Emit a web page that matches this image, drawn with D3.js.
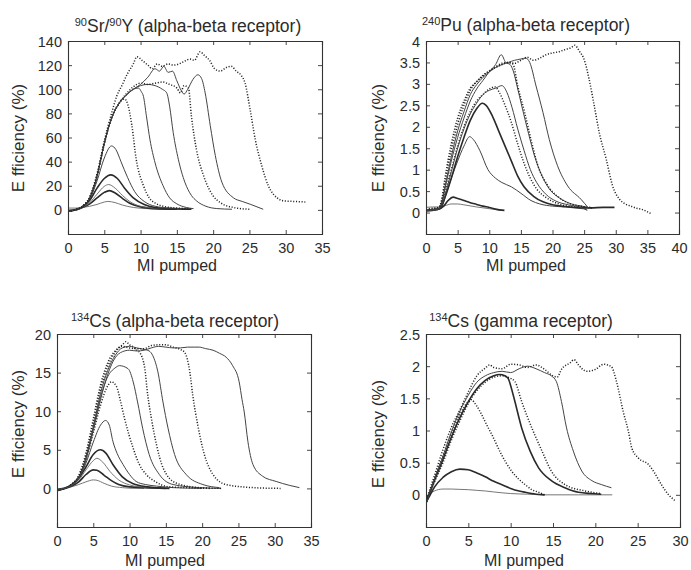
<!DOCTYPE html>
<html><head><meta charset="utf-8">
<script src="https://cdn.jsdelivr.net/npm/d3@7"></script>
<style>
body{margin:0;background:#fff}
svg{display:block}
text{font-family:"Liberation Sans",Arial,sans-serif;fill:#2b2b2b}
</style>
</head><body>
<svg id="c" width="691" height="570"></svg>
<script>
// ---------------- DATA ----------------
// Panel 1: 90Sr/90Y (alpha-beta receptor)
const srXTicks = [0,5,10,15,20,25,30,35];
const srYTicks = [0,20,40,60,80,100,120,140];
const sr1 = [[0,1.5],[1,1.5],[2,2],[3,3],[4,4.5],[5,6.5],[5.5,7],[6.5,6],[7.5,4],[9,2],[11,1],[13,0.5],[15,0.5]];
const sr2 = [[0,-1],[1,0],[2,2],[3,5],[4,10],[5,14.5],[5.7,16],[6.5,14],[7.5,9.5],[8.5,5.5],[10,2.5],[12,1],[15,0.5]];
const sr3 = [[0,0],[1,0.5],[2,2],[3,6],[4,13],[5,19.5],[5.6,21],[6.5,18],[7.5,12],[8.5,7],[10,3],[12,1.5],[15,1]];
const sr4 = [[0,-1],[1,0],[2,2.5],[3,8],[4,18],[5,26],[5.9,29],[6.8,26],[7.8,18],[9,10],[10.5,4.5],[12,2],[14,1],[17,0.5]];
const sr5 = [[0,-1],[1,0],[2,3],[3,9],[4,24],[5,43],[6,53],[6.6,50],[7.3,40],[8.2,27],[9.2,15],[10.5,7],[12,3],[14,1.5],[17,1]];
const sr6 = [[0,-1],[1,0],[2,3],[3,10],[4,28],[5,55],[6,76],[7,88],[7.8,92],[8.3,86],[8.8,70],[9.4,42],[10.4,20],[11.2,10],[12.2,5],[13.5,2.5],[15,1.5],[17,1]];
const sr7 = [[0,-1],[1,0],[2,3],[3,10],[4,28],[5,55],[6,76],[7,88],[8,95],[9,100],[9.7,101],[10.1,98],[10.4,94],[10.8,78],[11.3,58],[12,39],[13.1,20],[14,10],[15,5],[16.3,2],[17.3,1]];
const sr8 = [[0,-1],[1,0],[2,3],[3,10],[4,28],[5,55],[6,76],[7,88],[8,95],[9,100],[10,103],[11,104],[12,103],[13,100],[13.6,97],[14,86],[14.5,64],[15.2,42],[16.1,23],[17,12],[17.7,7.5],[19,3],[20.5,1.1],[22.6,0.5]];
const sr9 = [[0,-1],[1,0],[2,3],[3,10],[4,28],[5,55],[6,76],[7,88],[8,96],[9,102],[10,105],[11,104],[12,105],[13,106],[14,104],[15,101],[15.5,97],[16,103],[16.6,101],[17,78],[17.7,50],[18.7,28],[20,11.6],[21,6],[22.8,2],[25,0.5]];
const sr10 = [[0,-1],[1,0],[2,3],[3,10],[4,28],[5,55],[6,76],[7,88],[8,95],[9,100],[10,104],[11,110],[12,117],[12.6,115],[13.2,119],[13.8,114],[14.4,115],[15,107],[15.6,99],[16,96],[16.5,100],[17.2,108],[17.9,112],[18.4,109],[18.9,97],[19.6,70],[20.3,45],[21.2,23],[22.8,10],[24,7],[25.1,4.7],[26.9,0.5]];
const sr11 = [[0,-1],[1,0],[2,3],[3,11],[4,30],[5,57],[6,80],[6.7,94],[7.5,104],[8.2,113],[9,121],[9.5,127],[10.2,124],[11,120],[11.6,117],[12.3,121],[13,119],[13.8,121],[14.5,120],[15.3,121],[16,123],[16.8,125],[17.4,124],[18.2,131],[18.8,128],[19.5,124],[20.2,117],[21,115],[21.8,118],[22.5,119],[23.2,115],[23.8,112],[24.4,105],[25.1,83],[25.8,58.5],[26.7,36.5],[27.6,20],[28.3,13],[28.8,10],[29.7,7.5],[31,7],[32.7,6.6]];

// Panel 2: 240Pu (alpha-beta receptor)
const puXTicks = [0,5,10,15,20,25,30,35,40];
const puYTicks = [0,0.5,1,1.5,2,2.5,3,3.5,4];
const pu1 = [[0,0.12],[1,0.13],[2,0.13],[3,0.16],[4,0.2],[5,0.2],[6,0.18],[8,0.13],[10,0.09],[12,0.05]];
const pu2 = [[0,0.05],[1,0.07],[2,0.08],[2.8,0.15],[3.5,0.28],[4.3,0.36],[5,0.33],[6,0.28],[7,0.23],[8,0.19],[9,0.15],[10,0.12],[11,0.08],[12.4,0.05]];
const pu3 = [[0,0.05],[1,0.06],[2,0.1],[2.5,0.15],[3,0.35],[4,0.8],[5,1.2],[6,1.55],[6.9,1.77],[7.5,1.7],[8.5,1.45],[9.8,1.0],[11,0.8],[12,0.7],[13.5,0.6],[15,0.45],[16.6,0.28],[18,0.2],[20,0.15],[22,0.13],[24,0.1],[25.5,0.08]];
const pu4 = [[0,0.04],[1,0.05],[2,0.08],[2.5,0.15],[3,0.35],[4,0.8],[5,1.3],[6,1.75],[7,2.15],[8,2.42],[8.9,2.55],[9.5,2.5],[10.5,2.25],[11.5,1.9],[12.5,1.55],[13.5,1.2],[14.5,0.85],[15.5,0.6],[17,0.38],[18.5,0.25],[20,0.18],[22,0.14],[24,0.12],[26,0.11],[28,0.12],[29.8,0.12]];
const pu5 = [[0,0.05],[2,0.08],[2.5,0.2],[3,0.45],[4,1.0],[5,1.55],[6,2.0],[7,2.35],[8,2.6],[9,2.75],[10,2.88],[10.9,2.93],[11.6,2.8],[12.5,2.5],[13.5,2.1],[14.5,1.6],[15.5,1.15],[16.5,0.8],[17.5,0.55],[19,0.35],[21,0.2],[23,0.14],[25,0.12],[26.3,0.1]];
const pu6 = [[0,0.04],[2,0.08],[2.5,0.18],[3,0.4],[4,0.95],[5,1.5],[6,1.95],[7,2.3],[8,2.55],[9,2.75],[10,2.85],[11,2.9],[12,2.96],[12.8,2.8],[13.6,2.45],[14.5,1.95],[15.5,1.45],[16.5,1.0],[17.5,0.7],[19,0.42],[20.5,0.27],[22.5,0.18],[24.5,0.12],[25.5,0.05]];
const pu7 = [[0,0.05],[2,0.1],[2.5,0.2],[3,0.55],[4,1.2],[5,1.75],[6,2.2],[7,2.6],[8,2.88],[9,3.08],[10,3.28],[11,3.45],[11.9,3.68],[12.6,3.5],[13.3,3.45],[13.8,3.3],[14.4,2.95],[15.2,2.45],[16.2,1.85],[17.2,1.3],[18.2,0.9],[19.5,0.55],[21,0.35],[23,0.2],[25,0.14],[26,0.1]];
const pu8 = [[0,0.06],[2,0.12],[2.5,0.3],[3,0.7],[4,1.45],[5,2.05],[6,2.5],[7,2.85],[8,3.05],[9,3.18],[10,3.3],[11,3.4],[12,3.48],[13,3.5],[13.75,3.46],[14.5,2.95],[15.6,2.33],[16.6,1.7],[17.7,1.09],[19.3,0.62],[21.4,0.31],[24,0.16],[26,0.12]];
const pu9 = [[0,0.05],[2,0.1],[2.5,0.25],[3,0.6],[4,1.3],[5,1.9],[6,2.35],[7,2.75],[8,2.98],[9,3.15],[10,3.28],[11,3.38],[12,3.45],[13,3.5],[14,3.55],[15,3.58],[15.8,3.6],[16.4,3.5],[17.4,2.95],[18.5,2.33],[19.5,1.7],[20.8,1.09],[22.4,0.62],[24.5,0.31],[25.6,0.12]];
const pu10 = [[0,0.08],[1,0.1],[2,0.12],[2.5,0.3],[3,0.8],[4,1.6],[5,2.2],[6,2.6],[7,2.9],[8,3.05],[9,3.2],[10,3.3],[11,3.38],[12,3.45],[13,3.5],[14,3.48],[15,3.55],[16,3.62],[17,3.55],[18,3.6],[19,3.68],[20,3.72],[21,3.75],[22,3.8],[23,3.85],[23.5,3.9],[24.3,3.75],[25,3.57],[25.8,3.1],[26.6,2.49],[27.4,1.86],[28.5,1.24],[29.5,0.62],[30.6,0.31],[31.5,0.2],[32.4,0.15],[33.3,0.1],[34,0.08],[35.5,-0.02]];

// Panel 3: 134Cs (alpha-beta receptor)
const csXTicks = [0,5,10,15,20,25,30,35];
const csYTicks = [0,5,10,15,20];
const cs1 = [[0,-0.3],[1,-0.1],[2,0.2],[3,0.5],[4,0.85],[5,1.1],[5.5,1.05],[6.5,0.65],[7.5,0.3],[9,0.1],[11,0],[12,0]];
const cs2 = [[0,-0.2],[1,0],[2,0.3],[3,0.85],[4,1.8],[5,2.4],[5.5,2.35],[6.5,1.7],[7.5,1.0],[8.5,0.5],[10,0.2],[12,0.1],[15,0]];
const cs3 = [[0,-0.1],[1,0.1],[2,0.4],[3,1.1],[4,2.4],[5,3.6],[5.5,3.9],[6.3,3.4],[7.3,2.2],[8.5,1.1],[10,0.45],[12,0.15],[15,0]];
const cs4 = [[0,-0.3],[1,0],[2,0.5],[3,1.3],[4,2.8],[5,4.4],[6,5],[6.7,4.6],[7.7,3.1],[9,1.5],[10.5,0.6],[12.5,0.2],[15.5,0]];
const cs5 = [[0,-0.2],[1,0],[2,0.5],[3,1.4],[4,3.3],[5,6],[6,8.2],[6.7,8.8],[7.2,8.2],[7.7,6.1],[8.3,4.5],[9.1,3.1],[10,1.8],[10.9,0.9],[12.2,0.5],[13.7,0.3],[16,0.1],[20,0]];
const cs6 = [[0,-0.2],[1,0],[2,0.5],[3,1.5],[4,3.8],[5,7.2],[6,10.8],[7,13.3],[7.5,13.8],[8.2,13.2],[8.7,11.5],[9.3,9.1],[9.9,7],[10.5,5.2],[11.3,3.2],[12.3,1.8],[13.5,0.9],[15.5,0.2],[18,0.1],[21,0]];
const cs7 = [[0,-0.2],[1,0],[2,0.5],[3,1.5],[4,4],[5,7.8],[6,11.8],[7,14.5],[8,15.6],[8.6,15.9],[9.8,15.5],[10.5,13.8],[11.1,11.2],[11.8,7.8],[12.7,4.4],[14.1,1.8],[16,0.5],[19.6,0.1],[22.5,0]];
const cs8 = [[0,-0.2],[1,0],[2,0.5],[3,1.6],[4,4.3],[5,8.5],[6,12.8],[7,15.8],[8,17.6],[9,18.6],[9.5,19],[10,18.6],[10.5,18.3],[11,17.9],[11.4,17.6],[12.1,15.5],[12.5,12.1],[13,9.1],[13.7,5.7],[14.6,2.7],[16.4,0.7],[19.6,0.1],[22.8,0]];
const cs9 = [[0,-0.2],[1,0],[2,0.4],[3,1.4],[4,4],[5,8],[6,12.3],[7,15.3],[8,17.2],[9,18.2],[10,18.4],[11,18.2],[12,18],[12.7,17.8],[13.2,17.2],[13.9,15.1],[14.6,11.2],[15.3,7.8],[16.2,4.4],[17.8,1.8],[20.1,0.5],[22.4,0.1]];
const cs10 = [[0,-0.2],[1,0],[2,0.5],[3,1.7],[4,4.6],[5,9],[6,13.4],[7,16.3],[8,17.8],[9,18.4],[10,18.2],[11,18.1],[12,18.1],[13,18.5],[14,18.6],[15,18.6],[16,18.3],[17,18],[17.6,17.6],[18.3,15.1],[18.7,12.1],[19.4,8.2],[20.3,4.4],[21.5,1.8],[23.3,0.5],[27,0.1],[30.8,0]];
const cs11 = [[0,-0.2],[1,0],[2,0.4],[3,1.3],[4,3.7],[5,7.5],[6,11.5],[7,14.8],[8,16.9],[9,17.7],[10,17.9],[11,17.8],[12,17.9],[13,18.2],[14,18.4],[15,18.3],[16,18.2],[17,18.2],[18,18.3],[19,18.3],[19.6,18.3],[20.5,18.1],[21.5,17.9],[22.4,17.5],[23.3,17],[24.2,15.9],[25.1,13.8],[25.5,11.5],[25.8,9.9],[26.3,6.1],[27,3.1],[28.3,1.6],[30.2,0.9],[32,0.4],[33.4,0.1]];

// Panel 4: 134Cs (gamma receptor)
const gaXTicks = [0,5,10,15,20,25,30];
const gaYTicks = [0,0.5,1,1.5,2,2.5];
const ga1 = [[0,-0.05],[0.5,0.02],[1,0.06],[2,0.09],[3,0.09],[4,0.085],[5,0.08],[6,0.07],[7,0.06],[8,0.045],[10,0.02],[12,0.01],[14,0],[18,0],[22,0]];
const ga2 = [[0,-0.12],[0.5,0],[1,0.12],[2,0.27],[3,0.36],[4,0.4],[5,0.39],[6,0.34],[7,0.28],[8,0.21],[8.9,0.16],[10,0.1],[11,0.06],[11.7,0.04],[13,0.01],[14,0]];
const ga3 = [[0,-0.15],[0.5,0.05],[1,0.25],[2,0.6],[3,0.95],[4,1.25],[5,1.45],[5.3,1.48],[6,1.38],[6.6,1.24],[7.2,1.08],[7.8,0.93],[8.9,0.63],[10.1,0.37],[10.9,0.25],[11.7,0.16],[12.5,0.08],[13.3,0.04],[14,0]];
const ga4 = [[0,-0.1],[0.5,0.05],[1,0.22],[2,0.55],[3,0.9],[4,1.2],[5,1.45],[6,1.65],[7,1.78],[8,1.85],[8.7,1.87],[9.3,1.85],[9.7,1.81],[10.1,1.65],[10.5,1.45],[11.3,1.04],[12.3,0.68],[13.3,0.42],[14.8,0.22],[16.4,0.11],[18,0.04],[20.7,0.01]];
const ga5 = [[0,-0.12],[0.5,0.05],[1,0.2],[2,0.5],[3,0.85],[4,1.15],[5,1.42],[6,1.62],[7,1.75],[8,1.83],[9,1.85],[9.8,1.82],[10.5,1.76],[11.3,1.45],[12.5,1.04],[13.7,0.68],[14.8,0.37],[16.4,0.16],[18.8,0.06],[20.7,0.02]];
const ga6 = [[0,-0.15],[0.5,0.05],[1,0.25],[2,0.6],[3,0.98],[4,1.3],[5,1.55],[6,1.75],[7,1.85],[8,1.9],[9,1.92],[10,1.9],[11,1.96],[12,2.0],[13,1.96],[14,1.9],[14.8,1.85],[15.4,1.76],[16,1.45],[16.6,1.04],[17.4,0.68],[18.4,0.37],[19.6,0.22],[20.7,0.16],[21.9,0.11]];
const ga7 = [[0,-0.1],[0.5,0.1],[1,0.3],[2,0.7],[3,1.05],[4,1.32],[5,1.6],[6,1.85],[7,1.97],[7.5,2.02],[8,1.98],[9,1.96],[10,2.03],[11,2.02],[12,1.98],[13,2.02],[14,1.95],[15,1.85],[15.5,1.83],[16,1.95],[17,2.05],[17.5,2.1],[18,2.02],[19,1.92],[20,1.95],[21,2.03],[21.9,1.99],[22.5,1.76],[23.3,1.29],[23.9,0.99],[24.3,0.73],[25.1,0.57],[26.3,0.47],[27,0.34],[27.8,0.16],[28.6,0.01],[29.4,-0.09]];

// ---------------- LAYOUT / STYLE ----------------
const STY = {
  thin:  {w:0.9, c:"#666", dash:null},
  solid: {w:1.0, c:"#444", dash:null},
  thick: {w:1.6, c:"#2a2a2a", dash:null},
  dot:   {w:1.5, c:"#222", dash:"1.1,1.7"}
};

const panels = [
  {box:[68,41,322,234], xd:[0,35], yd:[-20,140], xt:srXTicks, yt:srYTicks,
   title:[["90",1],["Sr/",0],["90",1],["Y (alpha-beta receptor)",0]], tx:188, ty:32,
   xl:[177,271], yl:[24,138], xtb:253,
   curves:[sr1,sr2,sr3,sr4,sr5,sr6,sr7,sr8,sr9,sr10,sr11],
   styles:["thin","thick","thin","thick","solid","dot","solid","solid","dot","solid","dot"]},
  {box:[426,41,679,234], xd:[0,40], yd:[-0.5,4], xt:puXTicks, yt:puYTicks,
   title:[["240",1],["Pu (alpha-beta receptor)",0]], tx:526, ty:31,
   xl:[526,271], yl:[384,138], xtb:253,
   curves:[pu1,pu2,pu3,pu4,pu5,pu6,pu7,pu8,pu9,pu10],
   styles:["thin","thick","solid","thick","dot","solid","solid","dot","solid","dot"]},
  {box:[57,334,311,527], xd:[0,35], yd:[-5,20], xt:csXTicks, yt:csYTicks,
   title:[["134",1],["Cs (alpha-beta receptor)",0]], tx:175, ty:327,
   xl:[165,566], yl:[24,424], xtb:546,
   curves:[cs1,cs2,cs3,cs4,cs5,cs6,cs7,cs8,cs9,cs10,cs11],
   styles:["thin","thick","thin","thick","solid","dot","solid","dot","solid","dot","solid"]},
  {box:[426,334,680,527], xd:[0,30], yd:[-0.5,2.5], xt:gaXTicks, yt:gaYTicks,
   title:[["134",1],["Cs (gamma receptor)",0]], tx:521, ty:327,
   xl:[524,566], yl:[384,434], xtb:546,
   curves:[ga1,ga2,ga3,ga4,ga5,ga6,ga7],
   styles:["thin","thick","dot","thick","dot","solid","dot"]}
];

const svg = d3.select("#c");
svg.append("rect").attr("width",691).attr("height",570).attr("fill","#fff");

panels.forEach((p,i)=>{
  const [l,t,r,b] = p.box;
  const x = d3.scaleLinear().domain(p.xd).range([l,r]);
  const y = d3.scaleLinear().domain(p.yd).range([b,t]);
  const g = svg.append("g");
  const cid = "clip"+i;
  svg.append("clipPath").attr("id",cid).append("rect")
     .attr("x",l).attr("y",t).attr("width",r-l).attr("height",b-t);

  const line = d3.line().x(d=>x(d[0])).y(d=>y(d[1])).curve(d3.curveMonotoneX);
  const cg = g.append("g").attr("clip-path",`url(#${cid})`);
  p.curves.forEach((c,k)=>{
    const s = STY[p.styles[k]];
    cg.append("path").attr("d",line(c)).attr("fill","none")
      .attr("stroke",s.c).attr("stroke-width",s.w)
      .attr("stroke-dasharray",s.dash).attr("stroke-linejoin","round");
  });

  const tl = 4;
  const fmt = d=>String(d);
  const axB = g.append("g").attr("transform",`translate(0,${b})`)
    .call(d3.axisBottom(x).tickValues(p.xt).tickSize(-tl).tickPadding(0).tickFormat(fmt));
  const axT = g.append("g").attr("transform",`translate(0,${t})`)
    .call(d3.axisTop(x).tickValues(p.xt).tickSize(-tl).tickFormat(""));
  const axL = g.append("g").attr("transform",`translate(${l},0)`)
    .call(d3.axisLeft(y).tickValues(p.yt).tickSize(-tl).tickPadding(6).tickFormat(fmt));
  const axR = g.append("g").attr("transform",`translate(${r},0)`)
    .call(d3.axisRight(y).tickValues(p.yt).tickSize(-tl).tickFormat(""));
  [axB,axT,axL,axR].forEach(a=>{
    a.select(".domain").attr("stroke","#333").attr("stroke-width",1.1);
    a.selectAll(".tick line").attr("stroke","#333").attr("stroke-width",0.9);
    a.selectAll("text").attr("font-family","'Liberation Sans',Arial,sans-serif")
      .attr("font-size",14.5).attr("fill","#2b2b2b");
  });
  axB.selectAll(".tick text").attr("y",null).attr("dy",null)
     .attr("transform",`translate(0,${p.xtb-b})`);
  axL.selectAll(".tick text").attr("dy","0.35em");

  const tt = g.append("text").attr("x",p.tx).attr("y",p.ty)
     .attr("text-anchor","middle").attr("font-size",17.5);
  p.title.forEach(([s,sup])=>{
    if(sup){ tt.append("tspan").attr("font-size",11).attr("dy",-6.5).text(s); }
    else { tt.append("tspan").attr("dy",6.5).text(s); }
  });
  g.append("text").attr("x",p.xl[0]).attr("y",p.xl[1]).attr("text-anchor","middle")
    .attr("font-size",16).text("MI pumped");
  g.append("text").attr("transform",`translate(${p.yl[0]},${p.yl[1]}) rotate(-90)`)
    .attr("text-anchor","middle").attr("font-size",17).text("E fficiency (%)");
});
</script>
</body></html>
